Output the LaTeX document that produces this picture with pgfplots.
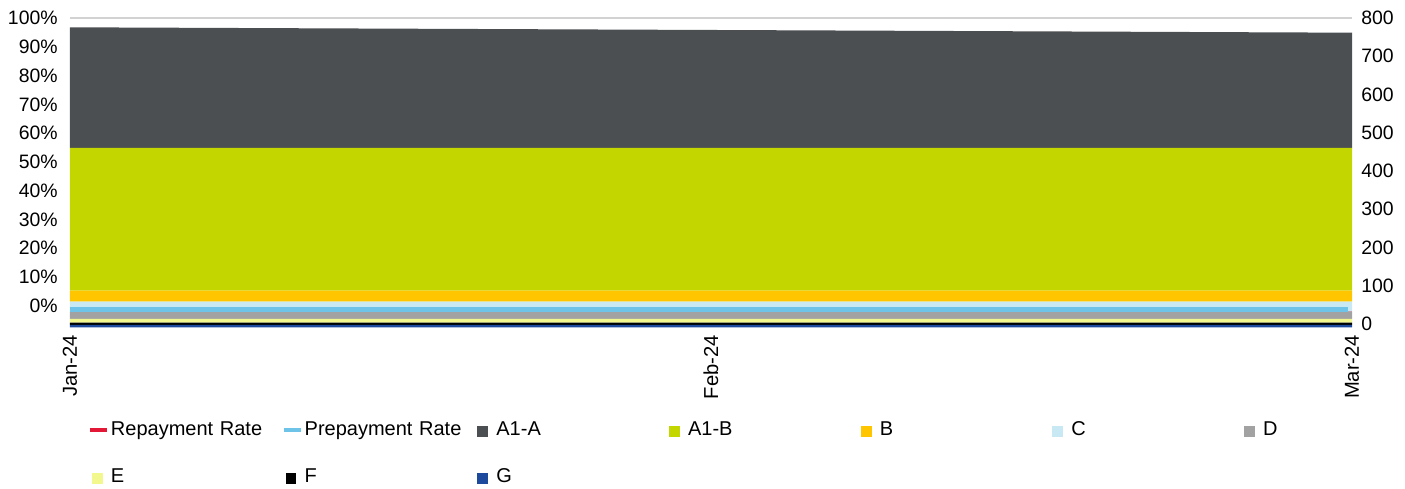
\documentclass[border=0pt]{standalone}
\usepackage{fontspec}
\setmainfont{Liberation Sans}
\usepackage{pgfplots}
\pgfplotsset{compat=1.18}
\definecolor{repcol}{HTML}{E31837}
\definecolor{precol}{HTML}{6EC4E8}
\definecolor{ca1a}{HTML}{4B4F52}
\definecolor{ca1b}{HTML}{C4D600}
\definecolor{cb}{HTML}{FFC600}
\definecolor{cc}{HTML}{C8E8F4}
\definecolor{cd}{HTML}{A2A2A2}
\definecolor{ce}{HTML}{F3F88E}
\definecolor{cf}{HTML}{000000}
\definecolor{cg}{HTML}{1E4A9E}
\pgfplotsset{
  base/.style={
    at={(0,0)}, anchor=south west, scale only axis,
    width=641pt, height=154.7pt,
    xmin=0, xmax=2,
    major tick length=0pt,
    axis line style={draw=none},
    tick label style={font=\fontsize{9.7}{11}\selectfont},
    /pgf/number format/assume math mode=true,
  },
  lineimg/.style={legend image code/.code={
      \path[draw=none,fill=none] (0pt,-4.5pt) rectangle (10.5pt,4.5pt);
      \draw[line width=2pt] (0pt,0.25pt) -- (8.5pt,0.25pt);}},
  sqimg/.style={draw=none, legend image code/.code={
      \path[draw=none,fill=none] (0pt,-4.5pt) rectangle (10.5pt,4.5pt);
      \fill (1pt,-3.5pt) rectangle (6.4pt,1.9pt);}},
}
\begin{document}
\begin{tikzpicture}
\useasboundingbox (-35pt,-80.3pt) rectangle (667.5pt,163.7pt);
% left axis (percent), repayment line underneath the areas
\begin{axis}[base,
  ymin=-7.5, ymax=100,
  axis y line*=left, axis x line=none,
  ytick={0,10,...,100},
  yticklabel={\pgfmathprintnumber{\tick}\%},
  yticklabel style={inner sep=0pt, xshift=-6pt},
]
\addplot[repcol, line width=2.5pt, forget plot] coordinates {(0,-1.2) (1,-1.2) (2,-1.2)};
\end{axis}
% right axis: stacked areas
\begin{axis}[base,
  ymin=-9, ymax=800,
  axis y line*=right, axis x line*=bottom,
  ytick={0,100,...,800},
  yticklabel style={inner sep=0pt, xshift=4.5pt, anchor=west},
  ymajorgrids, grid style={gray!35, line width=0.6pt},
  xtick={0,1,2}, xticklabels={Jan-24,Feb-24,Mar-24},
  xticklabel style={rotate=90, anchor=east, inner sep=3.6pt, font=\fontsize{10.1}{12}\selectfont},
  stack plots=y,
]
\addplot[draw=none, fill=none, forget plot] coordinates {(0,-9) (1,-9) (2,-9)} \closedcycle;
\addplot[fill=cg, draw=none, forget plot] coordinates {(0,6.4) (1,6.4) (2,6.4)} \closedcycle;
\addplot[fill=cf, draw=none, forget plot] coordinates {(0,6.0) (1,6.0) (2,6.0)} \closedcycle;
\addplot[fill=ce, draw=none, forget plot] coordinates {(0,9.7) (1,9.7) (2,9.7)} \closedcycle;
\addplot[fill=cd, draw=none, forget plot] coordinates {(0,19.1) (1,19.1) (2,19.1)} \closedcycle;
\addplot[fill=cc, draw=none, forget plot] coordinates {(0,26.1) (1,26.1) (2,26.1)} \closedcycle;
\addplot[fill=cb, draw=none, forget plot] coordinates {(0,28.8) (1,28.8) (2,28.8)} \closedcycle;
\addplot[fill=ca1b, draw=none, forget plot] coordinates {(0,373.0) (1,373.0) (2,373.0)} \closedcycle;
\addplot[fill=ca1a, draw=none, forget plot] coordinates {(0,315.6) (1,308.6) (2,301.5)} \closedcycle;
\end{axis}
% top: prepayment line + legend
\begin{axis}[base,
  ymin=-7.5, ymax=100,
  hide axis,
  legend columns=7,
  legend cell align=left,
  legend style={at={(0,0)}, anchor=north west, xshift=9pt, yshift=-46.8pt,
    draw=none, fill=none, inner sep=0pt, outer sep=0pt,
    column sep=0pt, row sep=14.5pt,
    nodes={inner sep=0pt, text width=85.35pt, text height=7pt, text depth=2pt,
      align=left, font=\fontsize{10}{12}\selectfont}},
]
\addplot[precol, line width=2.5pt, forget plot] coordinates {(0,-1.2) (1,-1.2) (1.993,-1.2)};
\addlegendimage{repcol, lineimg}
\addlegendentry{Repayment Rate}
\addlegendimage{precol, lineimg}
\addlegendentry{Prepayment Rate}
\addlegendimage{fill=ca1a, sqimg}
\addlegendentry{A1-A}
\addlegendimage{fill=ca1b, sqimg}
\addlegendentry{A1-B}
\addlegendimage{fill=cb, sqimg}
\addlegendentry{B}
\addlegendimage{fill=cc, sqimg}
\addlegendentry{C}
\addlegendimage{fill=cd, sqimg}
\addlegendentry{D}
\addlegendimage{fill=ce, sqimg}
\addlegendentry{E}
\addlegendimage{fill=cf, sqimg}
\addlegendentry{F}
\addlegendimage{fill=cg, sqimg}
\addlegendentry{G}
\end{axis}
\end{tikzpicture}
\end{document}
